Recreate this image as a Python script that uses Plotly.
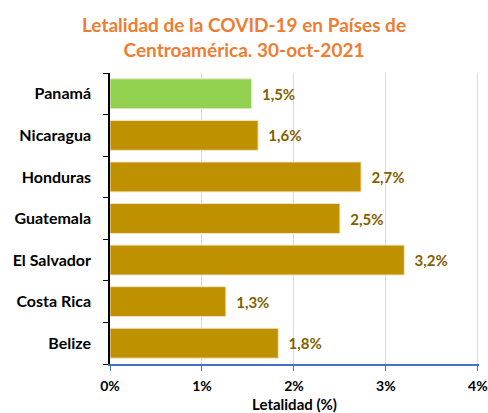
import plotly.graph_objects as go

countries = ["Belize", "Costa Rica", "El Salvador", "Guatemala", "Honduras", "Nicaragua", "Panamá"]
letalidad = [1.83, 1.26, 3.20, 2.50, 2.73, 1.61, 1.54]
colors = ["#BF9000"] * 6 + ["#92D050"]
x_ticks = [0, 1, 2, 3, 4]
x_tick_labels = ["0%", "1%", "2%", "3%", "4%"]

FONT = "Lato"

fig = go.Figure(go.Bar(
    y=countries,
    x=letalidad,
    orientation="h",
    marker=dict(color=colors, line=dict(color="#F2E6C9", width=1)),
    texttemplate="\u00a0\u00a0%{x:.1f}%",
    textposition="outside",
    textfont=dict(family=FONT, size=15, color="#7F6000", weight="bold"),
    cliponaxis=False,
    width=0.72,
))

fig.update_layout(
    width=488, height=413,
    separators=",.",
    paper_bgcolor="white", plot_bgcolor="white",
    margin=dict(l=110, r=9, t=73, b=49, autoexpand=False),
    title=dict(
        text="Letalidad de la COVID-19 en Países de<br>Centroamérica. 30-oct-2021",
        font=dict(family=FONT, size=19, color="#ED7D31", weight="bold"),
        x=0.5, xanchor="center", y=0.923, yanchor="middle",
    ),
    showlegend=False,
    bargap=0.28,
)

fig.update_xaxes(
    range=[0, 4.012],
    automargin=False,
    tickvals=x_ticks, ticktext=x_tick_labels,
    ticklabeloverflow="allow",
    showgrid=True, gridcolor="#D9D9D9", gridwidth=1,
    showline=True, linecolor="#4472C4", linewidth=1.5,
    ticks="outside", tickcolor="#4472C4", ticklen=5,
    ticklabelstandoff=3,
    tickfont=dict(family=FONT, size=14, color="#000000", weight="bold"),
    title=dict(text="Letalidad (%)", font=dict(family=FONT, size=15, color="#000000", weight="bold"), standoff=8),
    zeroline=False,
)
fig.update_yaxes(
    automargin=False,
    showline=True, linecolor="#000000", linewidth=1.5,
    ticks="outside", tickson="boundaries", tickcolor="#000000", ticklen=5,
    tickfont=dict(family=FONT, size=16, color="#000000", weight="bold"),
    ticklabelstandoff=14,
    showgrid=False,
)

fig.write_html(
    "out.html",
    config={"displayModeBar": False},
    post_script="document.body.style.margin='0';document.body.style.overflow='hidden';",
)
